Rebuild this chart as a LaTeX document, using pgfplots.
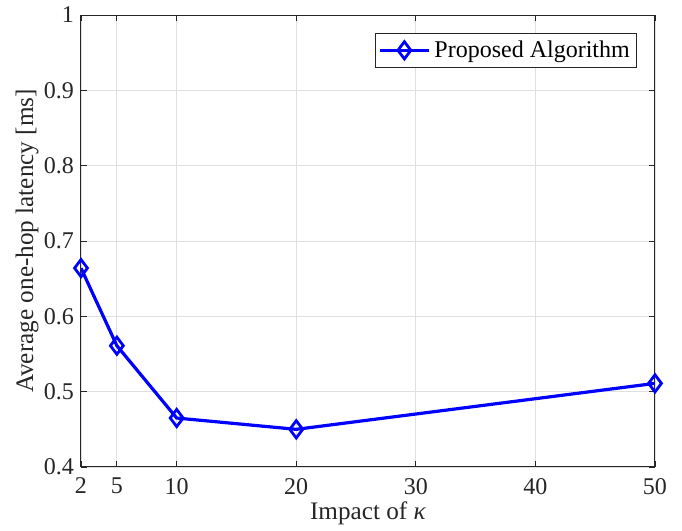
\documentclass[border=0pt]{standalone}
\usepackage{fontspec}
\setmainfont{Liberation Serif}
\usepackage{pgfplots}
\pgfplotsset{compat=1.18}
\definecolor{gridgray}{RGB}{223,223,223}
\definecolor{axgray}{RGB}{38,38,38}
\begin{document}
\begin{tikzpicture}
\begin{axis}[
  name=ax,
  scale only axis,
  width=287pt, height=226pt,
  xmin=2, xmax=50, ymin=0.4, ymax=1,
  xtick={2,5,10,20,30,40,50},
  xticklabels={2,5,10,20,30,40,50},
  ytick={0.4,0.5,0.6,0.7,0.8,0.9,1},
  yticklabels={0.4,0.5,0.6,0.7,0.8,0.9,1},
  tick label style={font=\rmfamily\fontsize{12}{14}\selectfont, text=axgray},
  xticklabel style={yshift=-2pt},
  xlabel={Impact of \textit{κ}},
  ylabel={Average one-hop latency [ms]},
  every axis x label/.style={at={(axis description cs:0.5,-0.102)}, anchor=center,
    font=\rmfamily\fontsize{12.6}{15}\selectfont, text=axgray},
  every axis y label/.style={at={(axis description cs:-0.094,0.5)}, anchor=center, rotate=90,
    font=\rmfamily\fontsize{12.6}{15}\selectfont, text=axgray},
  grid=major,
  major grid style={gridgray, line width=0.4pt},
  axis line style={axgray, line width=0.5pt},
  tick style={axgray, line width=0.4pt},
  major tick length=3pt,
  tick align=inside,
  legend style={at={(0.969,0.960)}, anchor=north east, draw=axgray, line width=0.4pt,
    font=\rmfamily\fontsize{12}{14}\selectfont, inner sep=1.5pt, row sep=0pt},
  legend cell align=left,
  legend image code/.code={\draw[mark repeat=2,mark phase=2] plot coordinates {(0cm,0cm) (0.43cm,0cm) (0.86cm,0cm)};},
]
\addplot[blue, line width=1.6pt, mark=diamond, mark size=4.3pt, mark options={solid, line width=1.4pt}]
  coordinates {(2,0.664) (5,0.561) (10,0.465) (20,0.450) (50,0.511)};
\addlegendentry{Proposed Algorithm}
\end{axis}
\pgfresetboundingbox
\path ([xshift=-40.5pt,yshift=-32pt]ax.south west) rectangle ([xshift=13.5pt,yshift=7.5pt]ax.north east);
\end{tikzpicture}
\end{document}
